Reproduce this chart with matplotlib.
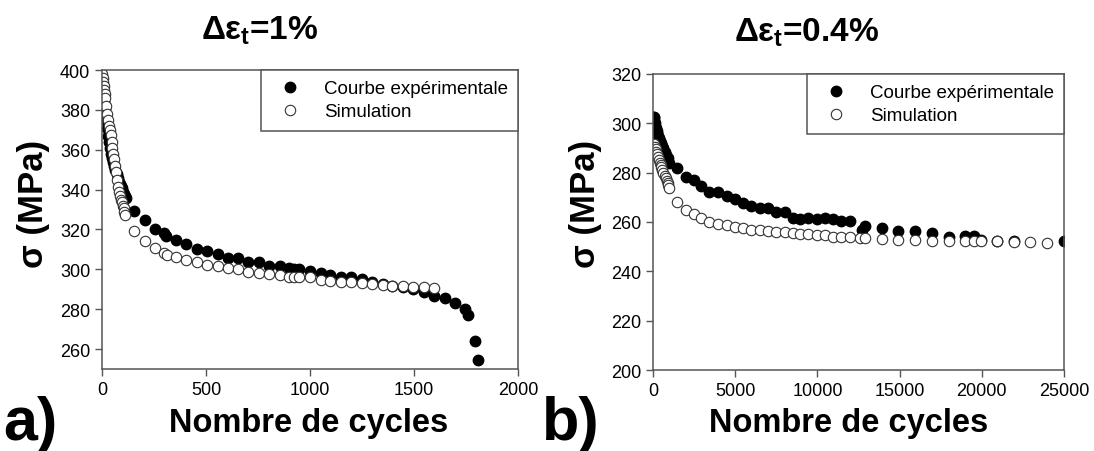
import matplotlib
matplotlib.use('Agg')
import matplotlib.pyplot as plt
from matplotlib import font_manager

# --- data ---
# a) delta eps_t = 1 %
cyc_exp_a = [1, 4, 7, 10, 13, 17, 20, 25, 30, 35, 40, 45, 50, 55, 60, 65, 70, 75, 80, 85, 90, 95, 100, 105, 110, 117,
             156, 206, 255, 300, 310, 355, 406, 456, 506, 557, 604, 654, 704, 754, 805, 855, 900, 922, 947,
             1001, 1051, 1098, 1148, 1199, 1249, 1299, 1350, 1396, 1447, 1497, 1547, 1598, 1648, 1698,
             1744, 1760, 1795, 1810]
sig_exp_a = [396, 392, 388, 384, 381, 377, 375, 371, 367, 364, 361, 358, 356, 354, 352, 350, 348, 346, 344, 343, 342, 341, 339, 338, 337, 336,
             329.5, 325, 320, 318, 316.5, 314.7, 312.7, 310.2, 309, 307.7, 305.7, 305.7, 303.8, 303.5, 301.5, 301.5, 300.5, 300, 300,
             299.3, 298, 297.3, 296.4, 296, 295, 293.4, 292.6, 291.7, 290.9, 290, 288.4, 286.4, 285.4, 282.9,
             280, 277, 264, 254.5]

cyc_sim_a = [2, 4, 6, 8, 10, 13, 17, 21, 25, 30, 34, 38, 42, 46, 50, 55, 59, 63, 67, 72, 77, 82, 87, 92, 96, 100, 104, 108, 112,
             156, 206, 256, 300, 312, 355, 406, 456, 506, 557, 604, 654, 704, 754, 805, 855, 900, 922, 947,
             1001, 1051, 1098, 1148, 1199, 1249, 1299, 1350, 1396, 1447, 1497, 1547, 1598]
sig_sim_a = [398, 396, 394, 392, 390, 388, 386, 382, 378, 375, 372, 370, 367.6, 364, 361, 358, 355.5, 352, 349, 345, 341.5, 339, 337, 335, 333.7, 332, 330.7, 329, 327.3,
             319.4, 314, 310.5, 308, 307.3, 306, 304.7, 303.5, 302.3, 301.8, 300.5, 300.2, 298.8, 298, 297.6, 297, 296.4, 296.4, 296.4,
             296, 294.6, 294.3, 293.8, 293.4, 293, 292.6, 292.3, 291.7, 291.4, 291.2, 291, 290.4]

# b) delta eps_t = 0.4 %
cyc_exp_b = [0, 20, 40, 60, 90, 120, 150, 190, 230, 270, 320, 370, 420, 470, 540, 620, 700, 800, 900, 1000,
             1478, 1985, 2470, 2935, 3378, 3970, 4476, 4962, 5469, 5955, 6483, 7010, 7496, 8003, 8489, 8953,
             9439, 9966, 10452, 10959, 11445, 11973, 12711, 12922, 13936, 14928, 15942, 16976, 17990, 18982,
             19510, 19954, 20946, 21939, 25000]
sig_exp_b = [291.5, 302.5, 302.5, 302, 301, 300, 299, 298, 297, 296, 295, 294, 293, 292, 291, 290, 288.5, 287, 286, 284,
             281.7, 278.3, 277, 274.7, 272, 272.3, 270.7, 269.3, 267.6, 266.6, 265.6, 265.8, 264.2, 264, 261.8, 261.3,
             261.8, 261.3, 261.8, 261.3, 260.6, 260.6, 256.8, 258.2, 257.5, 256.4, 256.4, 255.5, 254.1, 254.4,
             254.4, 252.8, 252.4, 252.4, 252.1]

cyc_sim_b = [0, 42, 105, 160, 211, 255, 296, 360, 422, 470, 507, 570, 634, 700, 781, 840, 887, 940, 992,
             1478, 1985, 2470, 2935, 3420, 3970, 4476, 4962, 5469, 5955, 6483, 7010, 7496, 8003, 8489, 8953,
             9439, 9966, 10452, 10959, 11445, 11973, 12606, 12922, 13936, 14928, 15942, 16976, 17990, 18982,
             19510, 19954, 20946, 21939, 22950, 23945]
sig_sim_b = [287, 291.8, 290.4, 289.4, 288.4, 287.4, 286.4, 285.2, 284.1, 283.2, 282.4, 281, 279.7, 278.7, 277.7, 276.8, 276, 274.8, 273.6,
             268, 264.9, 263.1, 261.5, 260.2, 259.2, 258.6, 257.8, 257.5, 256.8, 256.8, 256.4, 255.9, 255.9, 255.5, 255.1,
             255.1, 254.8, 254.8, 254.1, 253.9, 253.9, 253.5, 253.5, 253.1, 252.5, 252.8, 252.4, 252.4, 252.1,
             252.1, 252.1, 252.1, 251.9, 251.7, 251.5]

names = {f.name for f in font_manager.fontManager.ttflist}
narrow = 'Liberation Sans Narrow' if 'Liberation Sans Narrow' in names else 'Liberation Sans'

plt.rcParams['font.family'] = ['Liberation Sans', 'DejaVu Sans']
plt.rcParams['mathtext.fontset'] = 'custom'
plt.rcParams['mathtext.rm'] = narrow + ':bold'
plt.rcParams['mathtext.it'] = narrow + ':bold'
plt.rcParams['mathtext.bf'] = narrow + ':bold'

fig = plt.figure(figsize=(10.94, 4.52), dpi=100)
ax1 = fig.add_axes([0.0932, 0.1814, 0.3803, 0.6615])
ax2 = fig.add_axes([0.5969, 0.1792, 0.3757, 0.6549])

spine_col = '#555555'


def style(ax):
    for s in ax.spines.values():
        s.set_color(spine_col)
        s.set_linewidth(1.1)
    ax.tick_params(direction='out', length=5, width=1, color=spine_col,
                   labelsize=13, labelcolor='black', top=False, right=False)


def draw(ax, xe, ye, xs, ys):
    ax.plot(xe, ye, 'o', ms=7.5, color='black', mec='black', label='Courbe expérimentale')
    ax.plot(xs, ys, 'o', ms=7.5, mfc='white', mec='#333333', mew=0.8, label='Simulation')
    leg = ax.legend(loc='upper right', bbox_to_anchor=(1, 1), borderaxespad=0,
                    fancybox=False, framealpha=1, edgecolor=spine_col, fontsize=13.5,
                    borderpad=0.55, handlelength=2.0, handletextpad=0.8, labelspacing=0.3)
    leg.get_frame().set_linewidth(1.1)
    style(ax)


draw(ax1, cyc_exp_a, sig_exp_a, cyc_sim_a, sig_sim_a)
ax1.set_xlim(0, 2000)
ax1.set_ylim(250, 400)
ax1.set_xticks([0, 500, 1000, 1500, 2000])
ax1.set_yticks([260, 280, 300, 320, 340, 360, 380, 400])

draw(ax2, cyc_exp_b, sig_exp_b, cyc_sim_b, sig_sim_b)
ax2.set_xlim(0, 25000)
ax2.set_ylim(200, 320)
ax2.set_xticks([0, 5000, 10000, 15000, 20000, 25000])
ax2.set_yticks([200, 220, 240, 260, 280, 300, 320])

# titles, axis labels and panel letters
fig.text(260 / 1094, 1 - 31 / 452, r'$\Delta\varepsilon_t$=1%', family=narrow, weight='bold',
         fontsize=24, ha='center', va='center')
fig.text(807 / 1094, 1 - 33 / 452, r'$\Delta\varepsilon_t$=0.4%', family=narrow, weight='bold',
         fontsize=24, ha='center', va='center')

for xc in (33, 586):
    fig.text(xc / 1094, 1 - 204 / 452, 'σ (MPa)', rotation=90, weight='bold', fontsize=25,
             ha='center', va='center')
fig.text(309 / 1094, 1 - 424 / 452, 'Nombre de cycles', weight='bold', fontsize=23.5, ha='center', va='center')
fig.text(849 / 1094, 1 - 424 / 452, 'Nombre de cycles', weight='bold', fontsize=23.5, ha='center', va='center')

fig.text(3 / 1094, 1 - 425 / 452, 'a)', weight='bold', fontsize=44, ha='left', va='center')
fig.text(542 / 1094, 1 - 425 / 452, 'b)', weight='bold', fontsize=44, ha='left', va='center')

fig.savefig('out.png', dpi=100)
